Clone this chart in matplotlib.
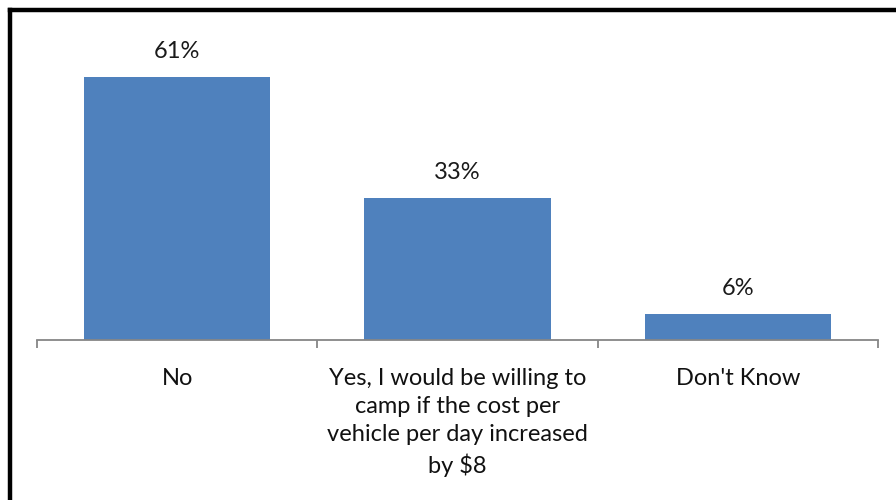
import matplotlib
matplotlib.use("Agg")
import matplotlib.pyplot as plt
from matplotlib.lines import Line2D

categories = ["No",
              "Yes, I would be willing to\ncamp if the cost per\nvehicle per day increased\nby $8",
              "Don't Know"]
values = [61, 33, 6]
value_labels = ["61%", "33%", "6%"]

plt.rcParams['font.family'] = ['Lato', 'DejaVu Sans']

W, H = 896, 500
fig = plt.figure(figsize=(W/100, H/100), dpi=100)
fig.patch.set_facecolor('white')

# axes: x from 37 to 878 px, baseline at y=340 px
x0, x1 = 37, 878
ybase = 340
ymax = 70
px_per = 4.31
ytop = ybase - ymax*px_per
ax = fig.add_axes([x0/W, (H-ybase)/H, (x1-x0)/W, (ybase-ytop)/H])
ax.set_xlim(-0.5, 2.5)
ax.set_ylim(0, ymax)

bars = ax.bar(range(3), values, width=0.664, color='#4F81BD', edgecolor='#4F81BD', linewidth=0)
for i, (v, lab) in enumerate(zip(values, value_labels)):
    ax.annotate(lab, (i, v), xytext=(0, 15), textcoords='offset pixels',
                ha='center', va='bottom', fontsize=17, color='#1a1a1a')

for s in ['top', 'right', 'left']:
    ax.spines[s].set_visible(False)
ax.spines['bottom'].set_color('#868686')
ax.spines['bottom'].set_linewidth(1.3)
ax.set_yticks([])
ax.set_xticks([-0.5, 0.5, 1.5, 2.5], minor=False)
ax.set_xticklabels([])
ax.tick_params(axis='x', which='major', length=6, width=1.3, color='#868686')
ax.set_xticks(range(3), minor=True)
ax.set_xticklabels(categories, minor=True, fontsize=17, color='#111111', linespacing=1.42)
ax.tick_params(axis='x', which='minor', length=0, pad=20)

# black frame (left and top)
fig.add_artist(Line2D([10/W, 10/W], [0, 1-10/H], color='black', linewidth=3.2, transform=fig.transFigure, solid_capstyle='projecting'))
fig.add_artist(Line2D([10/W, 1], [1-10/H, 1-10/H], color='black', linewidth=3.2, transform=fig.transFigure, solid_capstyle='projecting'))

fig.savefig('out.png', dpi=100)
